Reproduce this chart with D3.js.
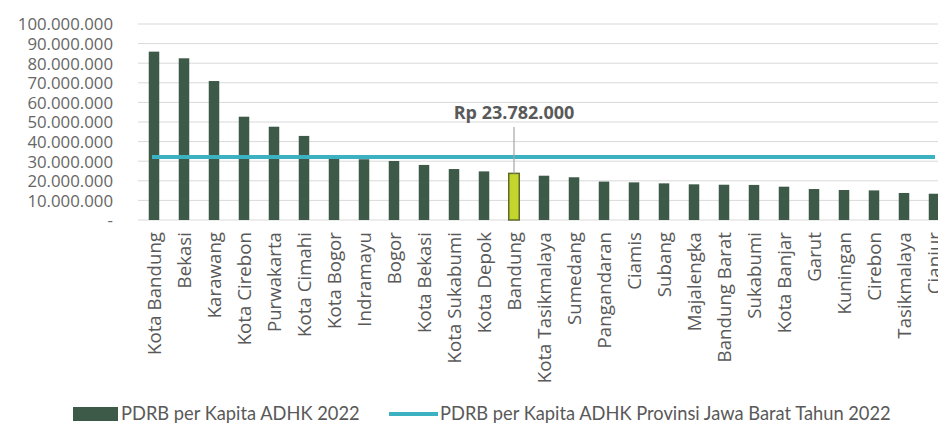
<!DOCTYPE html>
<html>
<head>
<meta charset="utf-8">
<script src="https://cdn.jsdelivr.net/npm/d3@7"></script>
<style>
  html, body { margin: 0; padding: 0; background: #fff; overflow: hidden; }
  svg { display: block; }
</style>
</head>
<body>
<svg id="chart" width="938" height="423"></svg>
<script>
const categories = ["Kota Bandung","Bekasi","Karawang","Kota Cirebon","Purwakarta","Kota Cimahi","Kota Bogor","Indramayu","Bogor","Kota Bekasi","Kota Sukabumi","Kota Depok","Bandung","Kota Tasikmalaya","Sumedang","Pangandaran","Ciamis","Subang","Majalengka","Bandung Barat","Sukabumi","Kota Banjar","Garut","Kuningan","Cirebon","Tasikmalaya","Cianjur"];
const pdrbValues = [85900000,82500000,70900000,52700000,47600000,42900000,31400000,31000000,30100000,28100000,26000000,24800000,23782000,22600000,21800000,19600000,19200000,18700000,18200000,18000000,17900000,17000000,15800000,15300000,15100000,13800000,13400000];
const provinceValue = 32100000;
const highlightCategory = "Bandung";
const annotationText = "Rp 23.782.000";
const yTicks = [0,10000000,20000000,30000000,40000000,50000000,60000000,70000000,80000000,90000000,100000000];
const legendLabels = ["PDRB per Kapita ADHK 2022","PDRB per Kapita ADHK Provinsi Jawa Barat Tahun 2022"];

const svg = d3.select("#chart");
const barColor = "#3d5a48";
const lineColor = "#3bb1c2";
const hiColor = "#c3d62e";

const x = d3.scaleBand().domain(categories).range([139, 139 + categories.length * 30]).paddingInner(0.65).paddingOuter(0.325);
const y = d3.scaleLinear().domain([0, 100000000]).range([220, 24]);

const fmt = v => v === 0 ? "-" : d3.format(",")(v).replace(/,/g, ".");

// gridlines
svg.append("g").selectAll("line").data(yTicks).join("line")
  .attr("x1", 138).attr("x2", 960)
  .attr("y1", d => y(d)).attr("y2", d => y(d))
  .attr("stroke", "#d9d9d9").attr("stroke-width", 1);

// y axis labels
const yAxis = d3.axisLeft(y).tickValues(yTicks).tickFormat(fmt).tickSize(0).tickPadding(0);
const yg = svg.append("g").attr("transform", "translate(113,0)").call(yAxis);
yg.select(".domain").remove();
yg.selectAll("text").attr("font-family", "'Open Sans', sans-serif").attr("font-size", 16.8).attr("fill", "#666").attr("dy", "0.35em");

// bars
svg.append("g").selectAll("rect").data(categories).join("rect")
  .attr("x", d => x(d)).attr("width", x.bandwidth())
  .attr("y", (d, i) => y(pdrbValues[i])).attr("height", (d, i) => y(0) - y(pdrbValues[i]))
  .attr("fill", d => d === highlightCategory ? hiColor : barColor)
  .attr("stroke", d => d === highlightCategory ? "#5e6b2a" : "none")
  .attr("stroke-width", 1.5);

// province line
svg.append("line")
  .attr("x1", x(categories[0]) + x.bandwidth() / 2 - 2)
  .attr("x2", x(categories[categories.length - 1]) + x.bandwidth() / 2 + 1)
  .attr("y1", y(provinceValue)).attr("y2", y(provinceValue))
  .attr("stroke", lineColor).attr("stroke-width", 4);

// x labels
const xAxis = d3.axisBottom(x).tickSize(0).tickPadding(0);
const xg = svg.append("g").attr("transform", "translate(0,232)").call(xAxis);
xg.select(".domain").remove();
xg.selectAll("text")
  .attr("font-family", "'Open Sans', sans-serif").attr("font-size", 18.7).attr("fill", "#595959")
  .attr("text-anchor", "end")
  .attr("transform", "rotate(-90)")
  .attr("x", 0).attr("y", 0).attr("dy", "0.35em").attr("dx", 0);

// annotation
const hiIdx = categories.indexOf(highlightCategory);
const hx = x(highlightCategory) + x.bandwidth() / 2;
svg.append("line").attr("x1", hx).attr("x2", hx).attr("y1", 127).attr("y2", y(pdrbValues[hiIdx]))
  .attr("stroke", "#a6a6a6").attr("stroke-width", 1.2);
svg.append("text").attr("x", hx).attr("y", 113).attr("dy", "0.35em")
  .attr("text-anchor", "middle").attr("font-family", "'Open Sans', sans-serif")
  .attr("font-weight", "bold").attr("font-size", 18).attr("fill", "#595959")
  .text(annotationText);

// legend
const lg = svg.append("g");
lg.append("rect").attr("x", 73).attr("y", 407).attr("width", 45).attr("height", 14).attr("fill", barColor);
lg.append("text").attr("x", 121).attr("y", 414).attr("dy", "0.35em")
  .attr("font-family", "Lato, sans-serif").attr("font-size", 18.3).attr("fill", "#595959").text(legendLabels[0]);
lg.append("line").attr("x1", 389).attr("x2", 438).attr("y1", 414).attr("y2", 414)
  .attr("stroke", lineColor).attr("stroke-width", 4);
lg.append("text").attr("x", 440).attr("y", 414).attr("dy", "0.35em")
  .attr("font-family", "Lato, sans-serif").attr("font-size", 18.3).attr("fill", "#595959").text(legendLabels[1]);
</script>
</body>
</html>
